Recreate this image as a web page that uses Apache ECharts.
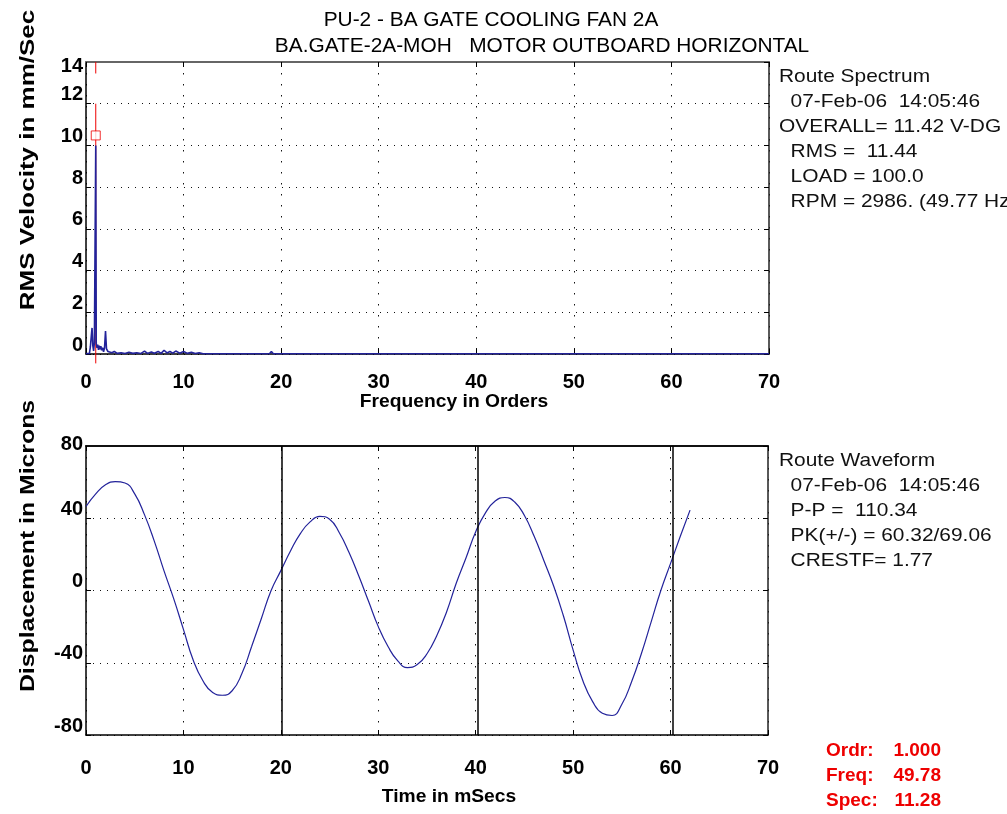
<!DOCTYPE html>
<html>
<head>
<meta charset="utf-8">
<script src="https://cdn.jsdelivr.net/npm/echarts@6/dist/echarts.min.js"></script>
<style>
  html, body { margin: 0; padding: 0; background: #ffffff; }
  #chart { width: 1007px; height: 814px; }
</style>
</head>
<body>
<div id="chart"></div>
<script>
// ---- Route spectrum: frequency in orders vs RMS velocity (mm/s) ----
const specOrder = [0.00, 0.20, 0.35, 0.45, 0.55, 0.62, 0.70, 0.78, 0.86, 0.95, 1.00, 1.05, 1.13, 1.20, 1.28,
  1.36, 1.44, 1.52, 1.60, 1.70, 1.80, 1.90, 2.00, 2.10, 2.25, 2.45, 2.65, 2.90, 3.20, 3.60, 4.00, 4.40,
  4.80, 5.20, 5.60, 6.00, 6.30, 6.70, 7.00, 7.40, 7.70, 8.00, 8.30, 8.60, 8.90, 9.20, 9.60, 10.0, 10.4,
  10.8, 11.2, 11.6, 12.0, 18.8, 19.0, 19.2, 21.8, 22.0, 22.2, 22.8, 23.0, 23.2, 37.8, 38.0, 38.2,
  46.3, 46.5, 46.7, 70.0];
const specAmp = [0.02, 0.05, 0.02, 0.35, 0.90, 1.25, 0.40, 0.15, 0.55, 0.60, 10.0, 0.50, 0.30, 0.45, 0.20,
  0.40, 0.22, 0.38, 0.18, 0.30, 0.10, 0.30, 1.10, 0.25, 0.12, 0.18, 0.06, 0.12, 0.03, 0.06, 0.02, 0.08,
  0.03, 0.06, 0.02, 0.14, 0.03, 0.10, 0.04, 0.12, 0.03, 0.18, 0.05, 0.12, 0.04, 0.14, 0.04, 0.12, 0.03,
  0.08, 0.02, 0.06, 0.01, 0.01, 0.12, 0.01, 0.01, 0.07, 0.01, 0.01, 0.06, 0.01, 0.01, 0.08, 0.01,
  0.01, 0.07, 0.01, 0.01];

// cursor at 1x running speed
const cursorOrder = 1.0;
const cursorAmp = 10.0;
const cursorSpan = [14, 13.45, 12.0, -0.45];   // cursor line extents (with a short break)

// ---- Route waveform: time in ms vs displacement (microns) ----
const waveTime = [0, 1, 2, 3, 4, 5, 6, 7, 8, 9, 10, 11, 12, 13, 14, 15, 16, 17, 18, 19, 20,
  21, 22, 23, 24, 25, 26, 27, 28, 29, 30, 31, 32, 33, 34, 35, 36, 37, 38, 39, 40,
  41, 42, 43, 44, 45, 46, 47, 48, 49, 50, 51, 52, 53, 54, 55, 56, 57, 58, 59, 60, 61, 62];
const waveDisp = [46.5, 53.5, 58.5, 60.3, 59.5, 53.5, 42.0, 27.5, 11.0, -4.5, -21.5, -38.5, -50.0, -56.5, -58.0,
  -55.5, -46.0, -31.0, -15.5, 0.0, 11.0, 22.0, 31.5, 38.0, 41.0, 39.5, 32.0, 21.0, 8.0, -6.0, -20.0,
  -31.0, -39.0, -42.7, -41.0, -35.0, -25.0, -12.0, 4.0, 18.0, 32.5, 43.0, 49.5, 51.5, 49.0, 41.5, 30.0,
  16.5, 2.5, -14.0, -33.0, -50.0, -61.5, -68.0, -69.2, -63.0, -50.5, -35.0, -17.5, 0.0, 15.0, 30.0, 44.5];
// one revolution markers (1 / 49.78 Hz)
const periodMarks = [20.09, 40.18, 60.27];

// axis scales: [min, max, interval]
const xScale = [0, 70, 10];
const specYScale = [0, 14, 2];
const waveYScale = [-80, 80, 40];

// ---- text ----
const titleLines = ['PU-2 - BA GATE COOLING FAN 2A', 'BA.GATE-2A-MOH   MOTOR OUTBOARD HORIZONTAL'];
const specYName = 'RMS Velocity in mm/Sec';
const specXName = 'Frequency in Orders';
const waveYName = 'Displacement in Microns';
const waveXName = 'Time in mSecs';
const spectrumNotes = ['Route Spectrum', '  07-Feb-06  14:05:46', 'OVERALL= 11.42 V-DG', '  RMS =  11.44',
  '  LOAD = 100.0', '  RPM = 2986. (49.77 Hz)'];
const waveformNotes = ['Route Waveform', '  07-Feb-06  14:05:46', '  P-P =  110.34', '  PK(+/-) = 60.32/69.06',
  '  CRESTF= 1.77'];
const cursorKeys = ['Ordr:', 'Freq:', 'Spec:'];
const cursorVals = ['1.000', '49.78', '11.28'];

const FONT = '"Liberation Sans", Arial, Helvetica, sans-serif';
const NAVY = '#22229a';
const RED = '#ee0000';

const chart = echarts.init(document.getElementById('chart'), null, { renderer: 'canvas' });

function bottomAxis(grid, scale, labelMargin) {
  return {
    type: 'value', gridIndex: grid, position: 'bottom',
    min: scale[0], max: scale[1], interval: scale[2],
    axisLine: { show: true, onZero: false, lineStyle: { color: '#000', width: 1.5 } },
    axisTick: { show: true, inside: true, length: 5, lineStyle: { color: '#000' } },
    axisLabel: { color: '#000', fontFamily: FONT, fontWeight: 'bold', fontSize: 20, margin: labelMargin },
    splitLine: { show: true, lineStyle: { color: '#111', width: 1, type: [1.5, 9.5] } }
  };
}
function topAxis(grid, scale, color) {
  return {
    type: 'value', gridIndex: grid, position: 'top',
    min: scale[0], max: scale[1], interval: scale[2],
    axisLine: { show: true, onZero: false, lineStyle: { color: color, width: 2 } },
    axisTick: { show: true, inside: true, length: 5, lineStyle: { color: '#000' } },
    axisLabel: { show: false }, splitLine: { show: false }
  };
}
function leftAxis(grid, scale) {
  return {
    type: 'value', gridIndex: grid, position: 'left',
    min: scale[0], max: scale[1], interval: scale[2],
    axisLine: { show: true, onZero: false, lineStyle: { color: '#000', width: 1.5 } },
    axisTick: { show: true, inside: true, length: 5, lineStyle: { color: '#000' } },
    axisLabel: { color: '#000', fontFamily: FONT, fontWeight: 'bold', fontSize: 20, margin: 3,
      verticalAlign: 'bottom', lineHeight: 18, showMaxLabel: false },
    splitLine: { show: true, lineStyle: { color: '#111', width: 1, type: [1, 6] } }
  };
}
function leftMaxLabel(grid, scale, vAlign, lineH) {
  return {
    type: 'value', gridIndex: grid, position: 'left',
    min: scale[0], max: scale[1], interval: scale[2],
    axisLine: { show: false }, axisTick: { show: false }, splitLine: { show: false },
    axisLabel: { color: '#000', fontFamily: FONT, fontWeight: 'bold', fontSize: 20, margin: 3,
      verticalAlign: vAlign, lineHeight: lineH, showMaxLabel: true,
      formatter: v => (v === scale[1] ? String(v) : '') }
  };
}
function rightAxis(grid, scale) {
  return {
    type: 'value', gridIndex: grid, position: 'right',
    min: scale[0], max: scale[1], interval: scale[2],
    axisLine: { show: true, onZero: false, lineStyle: { color: '#222', width: 1.5 } },
    axisTick: { show: true, inside: true, length: 5, lineStyle: { color: '#000' } },
    axisLabel: { show: false }, splitLine: { show: false }
  };
}

// plain text element; sx stretches the glyphs along the reading direction
function textEl(str, x, y, opts) {
  return {
    type: 'text', x: x, y: y, rotation: opts.rotation || 0, scaleX: opts.sx || 1, silent: true,
    style: {
      text: str, fill: opts.color || '#000',
      font: (opts.weight || 'normal') + ' ' + opts.size + 'px ' + FONT,
      textAlign: opts.align || 'left', textVerticalAlign: opts.valign || 'middle',
      lineHeight: opts.lineHeight || opts.size
    }
  };
}

const cursorLineData = [
  [cursorOrder, cursorSpan[0]], [cursorOrder, cursorSpan[1]], [cursorOrder, '-'],
  [cursorOrder, cursorSpan[2]], [cursorOrder, cursorSpan[3]]
];

const option = {
  backgroundColor: '#ffffff',
  animation: false,
  grid: [
    { left: 86, top: 62, width: 683, height: 292, outerBoundsMode: 'none' },
    { left: 86, top: 446, width: 682, height: 289, outerBoundsMode: 'none' }
  ],
  xAxis: [
    bottomAxis(0, xScale, 18),
    topAxis(0, xScale, '#666'),
    bottomAxis(1, xScale, 23),
    topAxis(1, xScale, '#111')
  ],
  yAxis: [
    leftAxis(0, specYScale),
    leftMaxLabel(0, specYScale, 'top', 8),
    rightAxis(0, specYScale),
    leftAxis(1, waveYScale),
    leftMaxLabel(1, waveYScale, 'bottom', 4),
    rightAxis(1, waveYScale)
  ],
  series: [
    {
      name: 'cursor', type: 'line', xAxisIndex: 0, yAxisIndex: 0,
      data: cursorLineData, symbol: 'none', clip: false, connectNulls: false,
      lineStyle: { color: RED, width: 1 }, z: 2, silent: true
    },
    {
      name: 'spectrum', type: 'line', xAxisIndex: 0, yAxisIndex: 0,
      data: specOrder.map((o, i) => [o, specAmp[i]]),
      symbol: 'none', lineStyle: { color: NAVY, width: 1.6 }, z: 3, silent: true
    },
    {
      name: 'cursorMark', type: 'scatter', xAxisIndex: 0, yAxisIndex: 0,
      data: [[cursorOrder, cursorAmp]], symbol: 'rect', symbolSize: 9, symbolOffset: [0, -10],
      itemStyle: { color: '#ffffff', borderColor: RED, borderWidth: 1 }, z: 4, silent: true
    },
    {
      name: 'waveform', type: 'line', xAxisIndex: 2, yAxisIndex: 3,
      data: waveTime.map((t, i) => [t, waveDisp[i]]),
      symbol: 'none', smooth: 0.5, lineStyle: { color: NAVY, width: 1.2 }, z: 3, silent: true,
      markLine: {
        silent: true, symbol: ['none', 'none'], label: { show: false },
        lineStyle: { color: '#000', type: 'solid', width: 1.5 },
        data: periodMarks.map(v => ({ xAxis: v }))
      }
    }
  ],
  graphic: [
    textEl(titleLines[0], 491, 21, { size: 19.5, sx: 1.07, align: 'center' }),
    textEl(titleLines[1], 542, 47, { size: 19.5, sx: 1.07, align: 'center' }),
    textEl(specYName, 28, 160, { size: 20, sx: 1.3, weight: 'bold', align: 'center', rotation: Math.PI / 2 }),
    textEl(waveYName, 28, 546, { size: 20, sx: 1.24, weight: 'bold', align: 'center', rotation: Math.PI / 2 }),
    textEl(specXName, 454, 402, { size: 17.5, sx: 1.1, weight: 'bold', align: 'center' }),
    textEl(waveXName, 449, 797, { size: 17.5, sx: 1.1, weight: 'bold', align: 'center' }),
    textEl(spectrumNotes.join('\n'), 779, 64.5, { size: 18.5, sx: 1.13, valign: 'top', lineHeight: 25, color: '#111' }),
    textEl(waveformNotes.join('\n'), 779, 448.5, { size: 18.5, sx: 1.13, valign: 'top', lineHeight: 25, color: '#111' }),
    textEl(cursorKeys.join('\n'), 826, 738, { size: 19, weight: 'bold', valign: 'top', lineHeight: 25, color: RED }),
    textEl(cursorVals.join('\n'), 941, 738, { size: 19, weight: 'bold', valign: 'top', lineHeight: 25, color: RED, align: 'right' })
  ]
};

chart.setOption(option);
</script>
</body>
</html>
